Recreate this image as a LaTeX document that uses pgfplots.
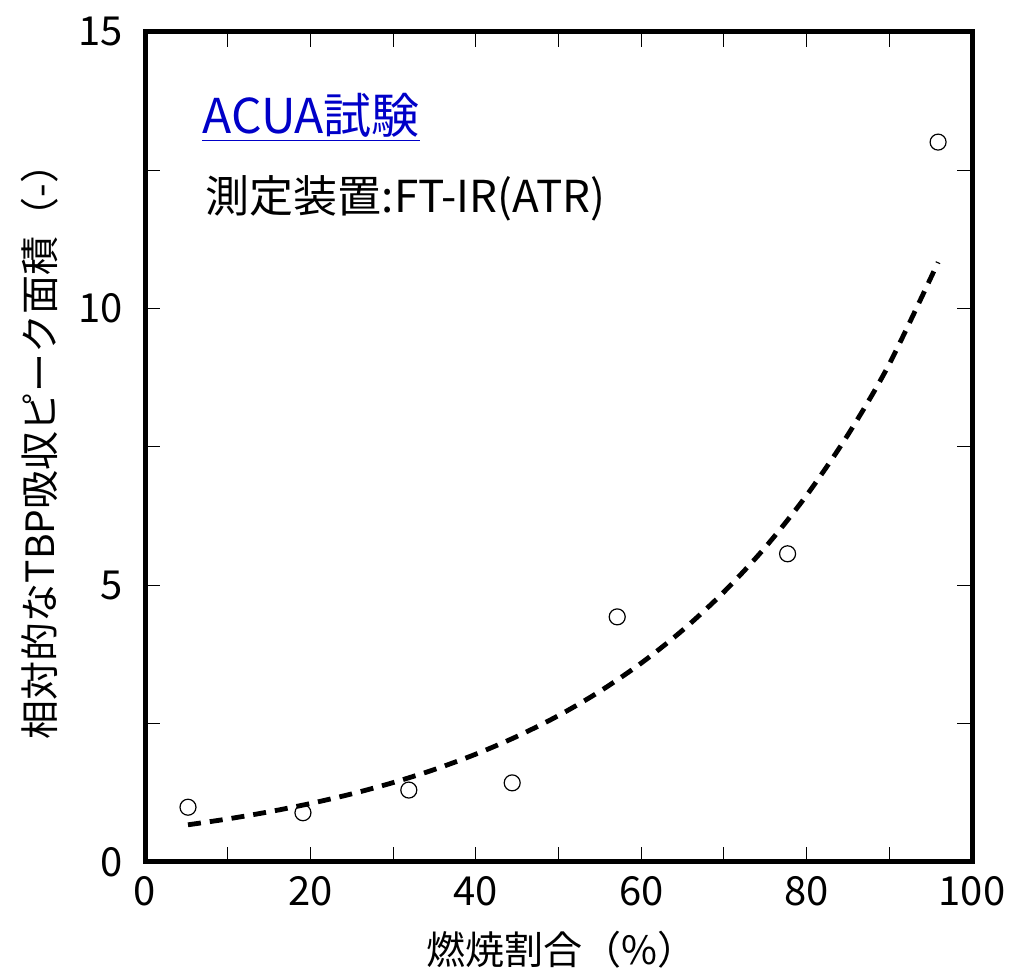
\documentclass[border=0pt]{standalone}
\usepackage{pgfplots}
\pgfplotsset{compat=1.18}
\usepackage{fontspec}
\setmainfont{Noto Sans CJK JP}
\definecolor{titleblue}{RGB}{0,0,200}
\begin{document}
\begin{tikzpicture}
\begin{axis}[
  width=413.5pt, height=415pt, scale only axis,
  xmin=0, xmax=100, ymin=0, ymax=15,
  xtick={0,20,...,100}, ytick={0,5,10,15},
  minor x tick num=1, minor y tick num=1,
  tick align=inside, tick pos=both,
  xticklabel pos=bottom, yticklabel pos=left,
  major tick length=7.5pt, minor tick length=7.5pt,
  every tick/.style={black, line width=0.5pt},
  axis line style={line width=2.5pt},
  /pgf/number format/assume math mode=true,
  ticklabel style={font=\fontsize{20}{24}\selectfont, inner sep=0pt},
  xticklabel style={anchor=north, yshift=-7pt},
  yticklabel style={anchor=east, xshift=-11pt},
  xlabel={燃焼割合（\%）},
  ylabel={相対的なTBP吸収ピーク面積（-）},
  label style={font=\fontsize{19.5}{23}\selectfont},
  xlabel style={at={(axis description cs:0.504,-0.106)}, anchor=center},
  ylabel style={at={(axis description cs:-0.127,0.506)}, anchor=center},
  clip=false,
]
\addplot[black, line width=2.4pt, dash pattern=on 6.5pt off 4.5pt, smooth] coordinates {
(5.2,0.672) (10,0.778) (15,0.907) (20,1.057) (25,1.231) (30,1.435) (35,1.672) (40,1.949) (45,2.271) (50,2.646) (55,3.084) (60,3.594) (65,4.188) (70,4.880) (75,5.687) (80,6.627) (85,7.722) (90,9.0) (95.9,10.84)
};
\addplot[only marks, mark=o, mark size=4pt, mark options={line width=0.6pt, black}] coordinates {
(5.2,0.99) (19.1,0.89) (31.9,1.30) (44.4,1.43) (57.1,4.43) (77.7,5.57) (95.9,13.01)
};
\node[anchor=west, inner sep=0pt, text=titleblue, font=\fontsize{24}{28}\selectfont] at (axis cs:6.9,13.45) {\underline{ACUA試験}};
\node[anchor=west, inner sep=0pt, font=\fontsize{22}{26}\selectfont] at (axis cs:7.3,12.0) {測定装置:FT-IR(ATR)};
\end{axis}
\path (-72.5pt,-56.5pt) rectangle (433pt,431pt);
\end{tikzpicture}
\end{document}
